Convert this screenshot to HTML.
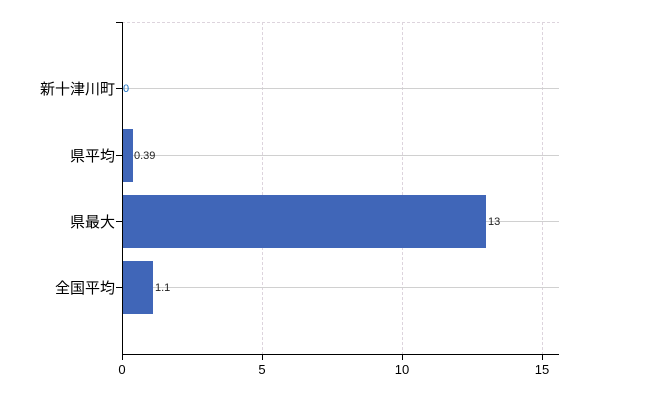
<!DOCTYPE html>
<html><head><meta charset="utf-8"><style>body{margin:0;background:#fff}svg{display:block}</style></head><body>
<svg width="650" height="400" xmlns="http://www.w3.org/2000/svg" font-family="'Liberation Sans','Noto Sans CJK JP',sans-serif">
<g stroke="#ddd4dd" stroke-dasharray="3,2" stroke-width="1">
<line x1="122" y1="22.5" x2="559" y2="22.5"/>
<line x1="262.5" y1="22" x2="262.5" y2="354"/>
<line x1="402.5" y1="22" x2="402.5" y2="354"/>
<line x1="542.5" y1="22" x2="542.5" y2="354"/>
</g>
<g stroke="#d0d0d0" stroke-width="1">
<line x1="122" y1="88.5" x2="559" y2="88.5"/>
<line x1="122" y1="155.5" x2="559" y2="155.5"/>
<line x1="122" y1="221.5" x2="559" y2="221.5"/>
<line x1="122" y1="287.5" x2="559" y2="287.5"/>
</g>
<g fill="#4066b8">
<rect x="122" y="129" width="11" height="53"/>
<rect x="122" y="195" width="364" height="53"/>
<rect x="122" y="261" width="31" height="53"/>
</g>
<g stroke="#000" stroke-width="1">
<line x1="122.5" y1="22" x2="122.5" y2="354"/>
<line x1="122" y1="354.5" x2="559" y2="354.5"/>
<line x1="116" y1="22.5" x2="122" y2="22.5"/>
<line x1="116" y1="88.5" x2="122" y2="88.5"/>
<line x1="116" y1="155.5" x2="122" y2="155.5"/>
<line x1="116" y1="221.5" x2="122" y2="221.5"/>
<line x1="116" y1="287.5" x2="122" y2="287.5"/>
<line x1="122.5" y1="354" x2="122.5" y2="360"/>
<line x1="262.5" y1="354" x2="262.5" y2="360"/>
<line x1="402.5" y1="354" x2="402.5" y2="360"/>
<line x1="542.5" y1="354" x2="542.5" y2="360"/>
</g>
<g font-size="15" text-anchor="end" fill="#000">
<text x="115" y="94">新十津川町</text>
<text x="115" y="161">県平均</text>
<text x="115" y="227">県最大</text>
<text x="115" y="293">全国平均</text>
</g>
<g font-size="13" text-anchor="middle" fill="#000">
<text x="122" y="374">0</text>
<text x="262" y="374">5</text>
<text x="402" y="374">10</text>
<text x="542" y="374">15</text>
</g>
<g font-size="11" fill="#222">
<text x="123" y="92" fill="#1a6fc0">0</text>
<text x="134" y="159">0.39</text>
<text x="488" y="225">13</text>
<text x="155" y="291">1.1</text>
</g>
</svg>
</body></html>
